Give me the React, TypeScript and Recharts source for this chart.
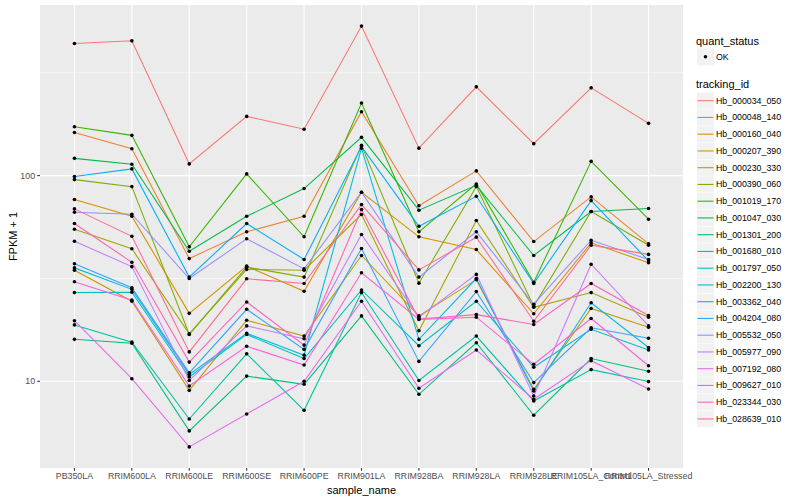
import React from 'react';
import { LineChart, Line, XAxis, YAxis, CartesianGrid, Label } from 'recharts';

const samples = [
  'PB350LA', 'RRIM600LA', 'RRIM600LE', 'RRIM600SE', 'RRIM600PE', 'RRIM901LA',
  'RRIM928BA', 'RRIM928LA', 'RRIM928LE', 'RRIM105LA_Control', 'RRIM105LA_Stressed',
];

const trackingIds = [
  'Hb_000034_050', 'Hb_000048_140', 'Hb_000160_040', 'Hb_000207_390', 'Hb_000230_330',
  'Hb_000390_060', 'Hb_001019_170', 'Hb_001047_030', 'Hb_001301_200', 'Hb_001680_010',
  'Hb_001797_050', 'Hb_002200_130', 'Hb_003362_040', 'Hb_004204_080', 'Hb_005532_050',
  'Hb_005977_090', 'Hb_007192_080', 'Hb_009627_010', 'Hb_023344_030', 'Hb_028639_010',
];

const colors = [
  '#F8766D', '#EA8331', '#D89000', '#C09B00', '#A3A500', '#7CAE00', '#39B600', '#00BB4E',
  '#00BF7D', '#00C1A3', '#00BFC4', '#00BAE0', '#00B0F6', '#35A2FF', '#9590FF', '#C77CFF',
  '#E76BF3', '#FA62DB', '#FF62BC', '#FF6C91',
];

// FPKM + 1 per sample, in the order of `samples`
const hb_000034_050 = [439, 452, 114, 194, 168, 533, 136, 270, 143, 267, 179.5];
const hb_000048_140 = [162, 135, 39.5, 53.3, 63.4, 204.5, 71.3, 105.4, 47.8, 78.8, 46.6];
const hb_000160_040 = [76.5, 63.4, 21.4, 36.3, 27.4, 83.0, 50.4, 43.7, 21.3, 47.1, 37.7];
const hb_000207_390 = [34.7, 24.5, 9.04, 19.8, 16.6, 40.9, 20.8, 31.2, 9.15, 22.6, 18.3];
const hb_000230_330 = [54.9, 44.1, 17.0, 35.0, 34.7, 64.7, 17.6, 60.5, 22.9, 27.0, 20.5];
const hb_000390_060 = [95.6, 88.4, 16.9, 35.9, 32.1, 140.3, 30.0, 88.4, 23.2, 66.9, 45.9];
const hb_001019_170 = [172.9, 156.9, 45.1, 101.9, 50.4, 225.4, 53.3, 91.1, 30.3, 117.3, 61.4];
const hb_001047_030 = [121.3, 113.5, 42.9, 63.4, 86.5, 153.5, 67.9, 89.7, 40.9, 66.9, 69.2];
const hb_001301_200 = [16.0, 15.3, 5.74, 10.6, 9.67, 20.8, 8.65, 15.4, 6.84, 12.9, 11.2];
const hb_001680_010 = [18.8, 15.5, 6.56, 13.6, 7.23, 27.0, 10.1, 16.6, 8.02, 11.4, 9.97];
const hb_001797_050 = [27.0, 27.1, 10.5, 16.9, 12.9, 27.8, 14.9, 24.5, 11.7, 17.9, 14.2];
const hb_002200_130 = [35.6, 28.0, 10.8, 17.1, 13.4, 136, 16.0, 31.6, 8.97, 24.1, 14.6];
const hb_003362_040 = [98.9, 107.8, 32.1, 58.5, 39.1, 138.3, 56.7, 79.3, 29.9, 75.6, 38.5];
const hb_004204_080 = [37.3, 28.5, 11.0, 22.4, 14.3, 44.2, 12.5, 27.3, 9.86, 18.2, 16.2];
const hb_005532_050 = [66.3, 64.9, 31.6, 49.3, 35.2, 83.0, 32.1, 53.3, 23.7, 48.5, 39.1];
const hb_005977_090 = [48.0, 36.1, 10.1, 18.6, 16.1, 51.7, 20.5, 33.1, 8.48, 37.1, 18.6];
const hb_007192_080 = [19.7, 10.3, 4.80, 6.94, 10.0, 24.5, 9.25, 14.2, 8.18, 12.6, 9.18];
const hb_009627_010 = [30.5, 24.8, 9.49, 14.8, 12.0, 33.7, 20.0, 20.5, 12.1, 20.2, 11.9];
const hb_023344_030 = [58.5, 37.9, 12.4, 24.3, 15.0, 68.4, 20.1, 21.1, 18.9, 29.9, 20.9];
const hb_028639_010 = [68.9, 50.7, 13.9, 31.5, 29.9, 72.3, 34.8, 50.2, 19.6, 45.9, 41.4];

const seriesValues = [
  hb_000034_050, hb_000048_140, hb_000160_040, hb_000207_390, hb_000230_330,
  hb_000390_060, hb_001019_170, hb_001047_030, hb_001301_200, hb_001680_010,
  hb_001797_050, hb_002200_130, hb_003362_040, hb_004204_080, hb_005532_050,
  hb_005977_090, hb_007192_080, hb_009627_010, hb_023344_030, hb_028639_010,
];

const yMajorTicks = [10, 100];
const yMinorTicks = [31.62, 316.2];
const yDomain = [3.79, 675];
const xIndices = samples.map((_, i) => i);

const rows = samples.map((s, i) => {
  const row: Record<string, number | string> = { idx: i, sample: s };
  trackingIds.forEach((t, k) => {
    row[t] = seriesValues[k][i];
  });
  return row;
});

const FONT = '"Liberation Sans", Arial, Helvetica, sans-serif';

function LegendPanel() {
  const x0 = 696;
  const keyX = 697;
  const keyW = 17;
  const step = 16.75;
  const first = 100.7;
  return (
    <svg
      width={110}
      height={460}
      style={{ position: 'absolute', left: 690, top: 0, overflow: 'visible' }}
      viewBox="690 0 110 460"
    >
      <text x={x0} y={40.7} fontSize={11} fill="#000" dominantBaseline="central" fontFamily={FONT}>
        quant_status
      </text>
      <rect x={keyX} y={48.3} width={keyW} height={keyW} fill="#F2F2F2" />
      <circle cx={keyX + keyW / 2} cy={56.8} r={1.8} fill="#000" />
      <text x={716} y={56.8} fontSize={8.8} fill="#000" dominantBaseline="central" fontFamily={FONT}>
        OK
      </text>
      <text x={x0} y={84} fontSize={11} fill="#000" dominantBaseline="central" fontFamily={FONT}>
        tracking_id
      </text>
      {trackingIds.map((t, i) => {
        const cy = first + i * step;
        return (
          <g key={t}>
            <rect x={keyX} y={cy - keyW / 2 + 0.4} width={keyW} height={keyW - 0.8} fill="#F2F2F2" />
            <line x1={keyX + 0.5} x2={keyX + keyW - 0.5} y1={cy} y2={cy} stroke={colors[i]} strokeWidth={1.1} />
            <text x={716} y={cy} fontSize={8.8} fill="#000" dominantBaseline="central" fontFamily={FONT}>
              {t}
            </text>
          </g>
        );
      })}
    </svg>
  );
}

export default function App() {
  return (
    <div style={{ position: 'absolute', left: 0, top: 0, width: 800, height: 500, background: '#fff' }}>
      <LineChart
        width={800}
        height={500}
        data={rows}
        margin={{ top: 5, right: 117, bottom: 0, left: 0 }}
        style={{ fontFamily: FONT }}
      >
        <CartesianGrid
          fill="#EBEBEB"
          stroke="#FFFFFF"
          strokeWidth={1.07}
          horizontalValues={yMajorTicks}
          verticalValues={xIndices}
        />
        <CartesianGrid
          stroke="#FFFFFF"
          strokeWidth={0.53}
          vertical={false}
          horizontalValues={yMinorTicks}
        />
        <XAxis
          type="number"
          dataKey="idx"
          domain={[-0.6, 10.6]}
          allowDataOverflow
          ticks={xIndices}
          interval={0}
          tickFormatter={(v: number) => samples[v] ?? ''}
          height={32}
          axisLine={false}
          tickLine={{ stroke: '#333333', strokeWidth: 1.07 }}
          tickSize={2.74}
          tickMargin={2.2}
          tick={{ fontSize: 8.8, fill: '#4D4D4D', fontFamily: FONT }}
        >
          <Label
            value="sample_name"
            position="insideBottom"
            offset={6}
            style={{ fontSize: 11, fill: '#000', fontFamily: FONT }}
          />
        </XAxis>
        <YAxis
          scale="log"
          type="number"
          domain={yDomain}
          allowDataOverflow
          ticks={yMajorTicks}
          interval={0}
          width={40}
          axisLine={false}
          tickLine={{ stroke: '#333333', strokeWidth: 1.07 }}
          tickSize={2.74}
          tickMargin={2.2}
          tick={{ fontSize: 8.8, fill: '#4D4D4D', fontFamily: FONT }}
        >
          <Label
            content={() => (
              <text
                x={13}
                y={236.5}
                transform="rotate(-90 13 236.5)"
                textAnchor="middle"
                dominantBaseline="central"
                fontSize={11}
                fill="#000"
                fontFamily={FONT}
              >
                FPKM + 1
              </text>
            )}
          />
        </YAxis>
        {trackingIds.map((t, i) => (
          <Line
            key={'line-' + t}
            type="linear"
            dataKey={t}
            stroke={colors[i]}
            strokeWidth={1.07}
            dot={false}
            activeDot={false}
            isAnimationActive={false}
          />
        ))}
        {trackingIds.map((t) => (
          <Line
            key={'pt-' + t}
            type="linear"
            dataKey={t}
            stroke="none"
            dot={{ r: 1.8, fill: '#000', stroke: 'none' }}
            activeDot={false}
            legendType="none"
            isAnimationActive={false}
          />
        ))}
      </LineChart>
      <LegendPanel />
    </div>
  );
}
